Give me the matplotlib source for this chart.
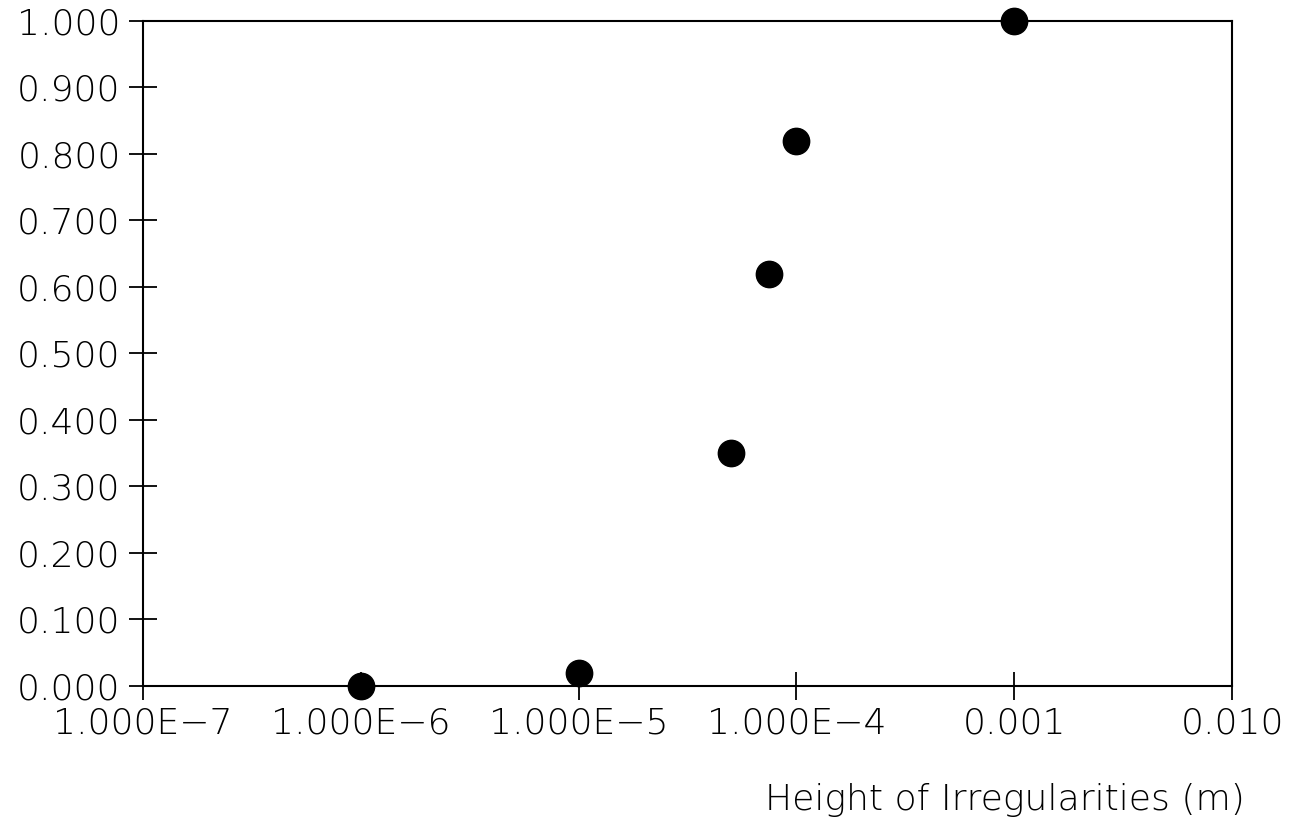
import matplotlib
matplotlib.use('Agg')
import matplotlib.pyplot as plt
import numpy as np

# data
height = [1e-6, 1e-5, 5e-5, 7.5e-5, 1e-4, 1e-3]
value = [0.0, 0.02, 0.35, 0.62, 0.82, 1.0]

xticks = [1e-7, 1e-6, 1e-5, 1e-4, 1e-3, 1e-2]
xticklabels = ['1.000E\u22127', '1.000E\u22126', '1.000E\u22125', '1.000E\u22124', '0.001', '0.010']
yticks = np.round(np.arange(0, 1.01, 0.1), 1)

plt.rcParams['font.family'] = 'DejaVu Sans'
plt.rcParams['font.weight'] = 'light'

fig = plt.figure(figsize=(12.99, 8.22), dpi=100)
ax = fig.add_axes([0.110, 0.1655, 0.8385, 0.809])

ax.scatter(height, value, s=360, color='black', zorder=3, clip_on=False)

ax.set_xscale('log')
ax.set_xlim(1e-7, 1e-2)
ax.set_ylim(0, 1)
ax.set_xticks(xticks)
ax.set_xticklabels(xticklabels)
ax.xaxis.set_minor_locator(matplotlib.ticker.NullLocator())
ax.set_yticks(yticks)
ax.set_yticklabels(['%.3f' % v for v in yticks])

for s in ax.spines.values():
    s.set_linewidth(1.5)
ax.tick_params(direction='inout', length=20, width=1.3, labelsize=26, pad=6)
ax.tick_params(axis='x', pad=5)

fig.text(0.958, 0.027, 'Height of Irregularities (m)', fontsize=26, ha='right', va='center')

fig.savefig('out.png', dpi=100)
